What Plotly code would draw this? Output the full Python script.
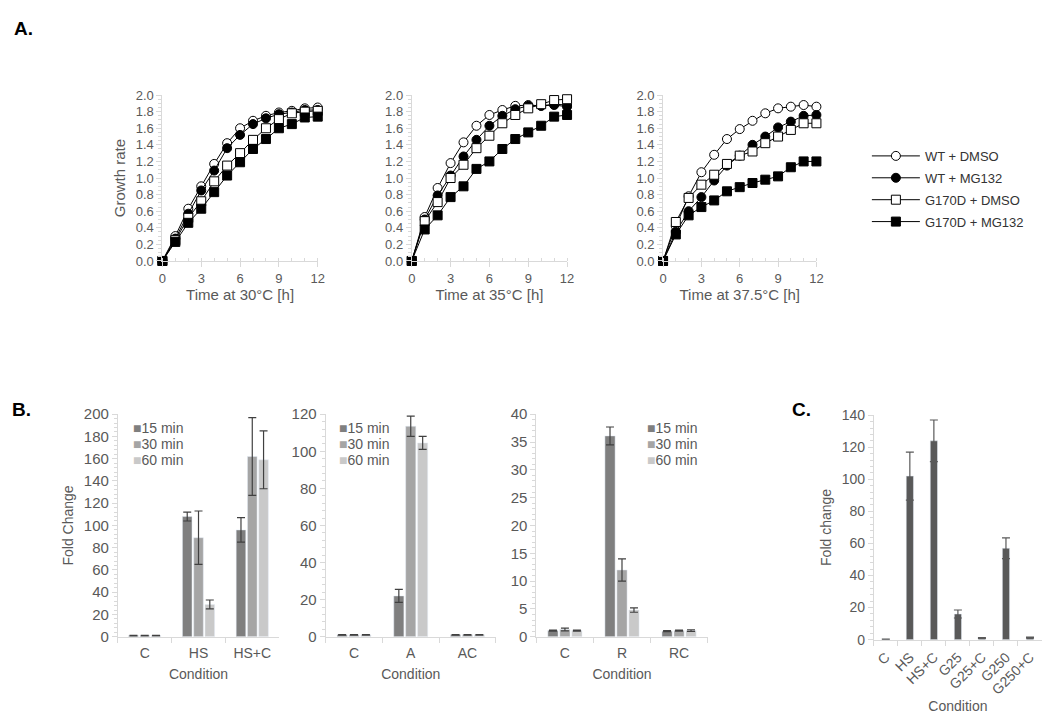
import plotly.graph_objects as go

# ---- panel A: growth curves ----
hours = list(range(13))
series_names = ["WT + DMSO", "WT + MG132", "G170D + DMSO", "G170D + MG132"]

a30_wt_dmso = [0, 0.30, 0.63, 0.90, 1.17, 1.42, 1.60, 1.69, 1.75, 1.79, 1.81, 1.84, 1.85]
a30_wt_mg132 = [0, 0.27, 0.57, 0.85, 1.09, 1.36, 1.52, 1.65, 1.72, 1.77, 1.79, 1.82, 1.82]
a30_g170d_dmso = [0, 0.25, 0.52, 0.72, 0.96, 1.15, 1.30, 1.46, 1.60, 1.71, 1.78, 1.80, 1.81]
a30_g170d_mg132 = [0, 0.23, 0.46, 0.63, 0.83, 1.03, 1.19, 1.35, 1.47, 1.60, 1.65, 1.73, 1.74]

a35_wt_dmso = [0, 0.53, 0.88, 1.18, 1.43, 1.63, 1.76, 1.82, 1.87, 1.88, 1.87, 1.89, 1.88]
a35_wt_mg132 = [0, 0.50, 0.79, 1.03, 1.26, 1.46, 1.63, 1.75, 1.83, 1.87, 1.87, 1.88, 1.86]
a35_g170d_dmso = [0, 0.48, 0.71, 1.00, 1.16, 1.36, 1.51, 1.66, 1.76, 1.84, 1.89, 1.94, 1.95]
a35_g170d_mg132 = [0, 0.38, 0.55, 0.77, 0.90, 1.11, 1.20, 1.35, 1.47, 1.55, 1.63, 1.74, 1.76]

a375_wt_dmso = [0, 0.42, 0.78, 1.07, 1.28, 1.47, 1.59, 1.69, 1.78, 1.84, 1.86, 1.88, 1.86]
a375_wt_mg132 = [0, 0.35, 0.60, 0.77, 0.97, 1.15, 1.27, 1.40, 1.50, 1.61, 1.68, 1.75, 1.76]
a375_g170d_dmso = [0, 0.47, 0.76, 0.92, 1.04, 1.17, 1.27, 1.32, 1.42, 1.50, 1.58, 1.66, 1.66]
a375_g170d_mg132 = [0, 0.32, 0.55, 0.65, 0.73, 0.84, 0.89, 0.94, 0.98, 1.02, 1.13, 1.20, 1.20]

temp_titles = ["Time at 30°C [h]", "Time at 35°C [h]", "Time at 37.5°C [h]"]

# ---- panel B: fold change per time point ----
time_names = ["15 min", "30 min", "60 min"]
b1_conditions = ["C", "HS", "HS+C"]
b1_15 = [1, 108, 96]
b1_15_err = [0.3, 4, 11]
b1_30 = [1, 89, 162]
b1_30_err = [0.3, 24, 35]
b1_60 = [1, 29, 159]
b1_60_err = [0.3, 4, 26]

b2_conditions = ["C", "A", "AC"]
b2_15 = [1, 22, 1]
b2_15_err = [0.2, 3.5, 0.2]
b2_30 = [1, 113.5, 1]
b2_30_err = [0.2, 5.5, 0.2]
b2_60 = [1, 104.5, 1]
b2_60_err = [0.2, 3.5, 0.2]

b3_conditions = ["C", "R", "RC"]
b3_15 = [1.1, 36.1, 1.0]
b3_15_err = [0.1, 1.6, 0.1]
b3_30 = [1.3, 12.0, 1.1]
b3_30_err = [0.25, 2.0, 0.1]
b3_60 = [1.1, 4.8, 1.1]
b3_60_err = [0.1, 0.4, 0.15]

# ---- panel C ----
c_conditions = ["C", "HS", "HS+C", "G25", "G25+C", "G250", "G250+C"]
c_values = [0.2, 102, 124, 16, 1, 57, 1.3]
c_err = [0.1, 15, 13, 2.5, 0.3, 6.5, 0.3]

# the page body has an 8px margin, so layout is planned in window pixels and shifted
OFF = 8
FW, FH = 1050 - OFF, 714 - OFF
FONT = "Liberation Sans, Arial, sans-serif"
GREY_TXT = "#595959"
AXIS_COL = "#d9d9d9"
BAR_COLS = ["#7f7f7f", "#a5a5a5", "#c9c9c9"]


def px(x):
    return (x - OFF) / FW


def py(y):
    return 1 - (y - OFF) / FH


def dx(p0, p1):
    return [px(p0), min(px(p1), 1)]


def dy(top, bottom):
    return [py(bottom), py(top)]


fig = go.Figure()

a_data = [
    [a30_wt_dmso, a30_wt_mg132, a30_g170d_dmso, a30_g170d_mg132],
    [a35_wt_dmso, a35_wt_mg132, a35_g170d_dmso, a35_g170d_mg132],
    [a375_wt_dmso, a375_wt_mg132, a375_g170d_dmso, a375_g170d_mg132],
]
symbols = ["circle", "circle", "square", "square"]
fills = ["white", "black", "white", "black"]

for p, panel in enumerate(a_data):
    ax = "" if p == 0 else str(p + 1)
    for k in range(4):
        fig.add_trace(go.Scatter(
            x=hours, y=panel[k], name=series_names[k], mode="lines+markers",
            xaxis="x" + ax, yaxis="y" + ax,
            line=dict(color="black", width=1),
            marker=dict(symbol=symbols[k], size=9, color=fills[k],
                        line=dict(color="black", width=1)),
            cliponaxis=False, showlegend=(p == 0), legendgroup=series_names[k],
        ))

b_data = [
    (b1_conditions, [b1_15, b1_30, b1_60], [b1_15_err, b1_30_err, b1_60_err]),
    (b2_conditions, [b2_15, b2_30, b2_60], [b2_15_err, b2_30_err, b2_60_err]),
    (b3_conditions, [b3_15, b3_30, b3_60], [b3_15_err, b3_30_err, b3_60_err]),
]
for p, (cats, vals, errs) in enumerate(b_data):
    ax = str(p + 4)
    for k in range(3):
        fig.add_trace(go.Bar(
            x=cats, y=vals[k], name=time_names[k],
            xaxis="x" + ax, yaxis="y" + ax,
            marker=dict(color=BAR_COLS[k]), showlegend=False,
            error_y=dict(type="data", array=errs[k], color="#404040",
                         thickness=1.2, width=4),
        ))

fig.add_trace(go.Bar(
    x=c_conditions, y=c_values, xaxis="x7", yaxis="y7", width=0.3,
    marker=dict(color="#595959"), showlegend=False,
    error_y=dict(type="data", array=c_err, color="#595959", thickness=1.2, width=4),
))


def fnt(size, color=GREY_TXT):
    return dict(family=FONT, size=size, color=color)


def yax(domain, rng, dtick, minor, anchor, title=None, tsize=15, ksize=13, fmt=None):
    d = dict(domain=domain, range=rng, dtick=dtick, showgrid=False, zeroline=False,
             showline=True, linecolor=AXIS_COL, linewidth=1, ticks="outside",
             ticklen=5, tickcolor=AXIS_COL, tickfont=fnt(ksize), anchor=anchor,
             minor=dict(ticks="outside", ticklen=3, tickcolor=AXIS_COL, dtick=minor),
             fixedrange=True)
    if fmt:
        d["tickformat"] = fmt
    if title:
        d["title"] = dict(text=title, font=fnt(tsize), standoff=6)
    return d


def cat_xax(domain, anchor, standoff, angle=0):
    return dict(domain=domain, type="category", showgrid=False, zeroline=False,
                showline=True, linecolor=AXIS_COL, ticks="outside", ticklen=5,
                tickcolor=AXIS_COL, tickson="boundaries", tickangle=angle,
                tickfont=fnt(14), ticklabelstandoff=3, anchor=anchor,
                title=dict(text="Condition", font=fnt(14), standoff=standoff),
                fixedrange=True)


layout = dict(
    width=FW, height=FH, margin=dict(l=0, r=0, t=0, b=0),
    paper_bgcolor="white", plot_bgcolor="white",
    font=dict(family=FONT, color=GREY_TXT),
    barmode="group", bargap=0.37, bargroupgap=0.15,
)

a_x = [(160, 317), (412, 569), (666, 821)]
for p in range(3):
    ax = "" if p == 0 else str(p + 1)
    layout["xaxis" + ax] = dict(
        domain=dx(*a_x[p]), range=[0, 12], dtick=3, showgrid=False, zeroline=False,
        showline=True, linecolor=AXIS_COL, ticks="outside", ticklen=5, tickcolor=AXIS_COL,
        minor=dict(ticks="inside", ticklen=3, tickcolor=AXIS_COL, dtick=1),
        tickfont=fnt(13), anchor="y" + ax,
        title=dict(text=temp_titles[p], font=fnt(15), standoff=4), fixedrange=True)
    layout["yaxis" + ax] = yax(dy(88, 258), [0, 2], 0.2, 0.05, "x" + ax,
                               title="Growth rate" if p == 0 else None, fmt=".1f")

b_x = [(115, 278), (325, 497), (538, 711)]
b_rng = [([0, 200], 20, 4), ([0, 120], 20, 4), ([0, 40], 5, 1)]
for p in range(3):
    ax = str(p + 4)
    layout["xaxis" + ax] = cat_xax(dx(*b_x[p]), "y" + ax, 9)
    rng, dt, mn = b_rng[p]
    layout["yaxis" + ax] = yax(dy(415, 643), rng, dt, mn, "x" + ax,
                               title="Fold Change" if p == 0 else None,
                               tsize=14, ksize=15)

layout["xaxis7"] = cat_xax(dx(879, 1049), "y7", 4, angle=-45)
layout["yaxis7"] = yax(dy(416, 646), [0, 140], 20, 4, "x7", title="Fold change",
                       tsize=14, ksize=14)

layout["legend"] = dict(x=px(872), y=py(135), xanchor="left", yanchor="top",
                        font=fnt(13, "#333333"), bgcolor="rgba(0,0,0,0)",
                        traceorder="grouped", tracegroupgap=2, itemwidth=48)

fig.update_layout(**layout)

# legends of the B panels
for lx in [128, 336, 648]:
    for k in range(3):
        fig.add_annotation(
            text="<span style='color:%s'>■</span>%s" % (BAR_COLS[k], time_names[k]),
            x=px(lx), y=py(429 + 16.5 * k), xref="paper", yref="paper",
            xanchor="left", yanchor="middle", showarrow=False, font=fnt(14))

for txt, x, y in [("A.", 8, 20), ("B.", 6, 410), ("C.", 794, 410)]:
    fig.add_annotation(text="<b>" + txt + "</b>", x=px(x), y=py(y), xref="paper",
                       yref="paper", xanchor="left", yanchor="middle", showarrow=False,
                       font=fnt(19, "black"))

fig.write_html("out.html")
